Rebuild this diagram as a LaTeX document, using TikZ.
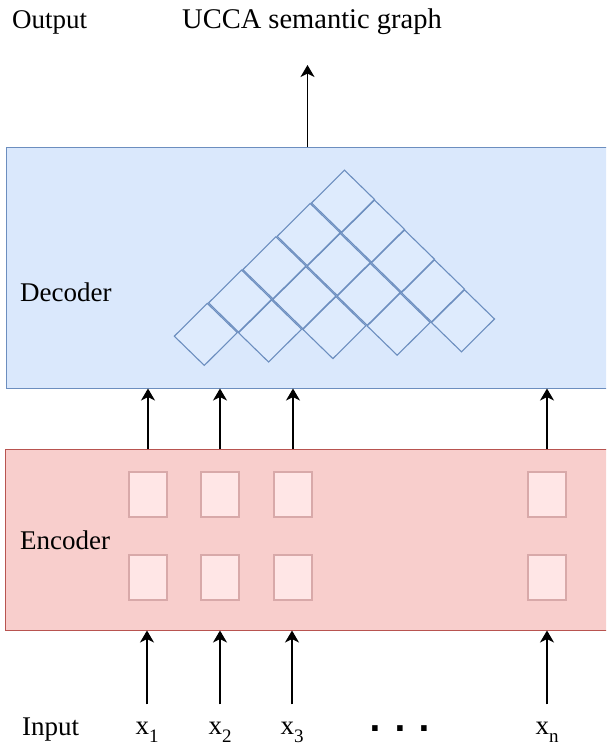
\documentclass[tikz,border=0pt]{standalone}
\usepackage{fontspec}
\setmainfont{Liberation Serif}
\newfontfamily\dotfont{DejaVu Sans}
\usepackage{tikz}
\usetikzlibrary{arrows.meta}
\tikzset{>={Stealth[length=12pt,width=14pt,inset=3.5pt]}}

\definecolor{decfill}{HTML}{DAE8FC}
\definecolor{decline}{HTML}{6C8EBF}
\definecolor{cellfill}{HTML}{DEEBFD}
\definecolor{encfill}{HTML}{F8CECC}
\definecolor{encline}{HTML}{B85450}
\definecolor{hidfill}{HTML}{FFE6E6}
\definecolor{hidline}{HTML}{D8A9A9}

\tikzset{
  block/.style={rectangle, inner sep=0pt, line width=1pt, minimum width=621pt},
  hidbox/.style={rectangle, fill=hidfill, draw=hidline, line width=1.2pt,
    inner sep=0pt, minimum width=38pt, minimum height=45pt},
  cell/.style={fill=cellfill, draw=decline, line width=1.1pt},
  lbl/.style={inner sep=0pt, font=\fontsize{27}{32}\selectfont},
  arr/.style={->, line width=1.3pt},
}
\newcommand\xsub[1]{\raisebox{-8pt}{\fontsize{19}{19}\selectfont#1}}

\begin{document}
\begin{tikzpicture}[x=1pt,y=-1pt]
  \useasboundingbox (0,0) rectangle (606,745);
  \clip (0,0) rectangle (606,745);

  % the two blocks
  \node[block, fill=decfill, draw=decline, minimum height=241pt] (dec) at (316.5,267.5) {};
  \node[block, fill=encfill, draw=encline, minimum height=181pt] (enc) at (315.5,539.5) {};

  \node[lbl, anchor=base west] (declbl) at (20,301) {Decoder};
  \node[lbl, anchor=base west] (enclbl) at (20,549) {Encoder};
  \node[lbl, anchor=base west] (outlbl) at (12,28) {Output};
  \node[lbl, anchor=base, font=\fontsize{28.5}{32}\selectfont] (graph) at (312,28) {UCCA semantic graph};
  \node[lbl, anchor=base west] (inlbl) at (22,735) {Input};

  % chart cells of the decoder
  \foreach \r in {0,...,4}{
    \pgfmathtruncatemacro\last{4-\r}
    \foreach \i in {0,...,\last}{
      \draw[cell, shift={({205.8+64.3*\i+34.3*\r},{334.4-3.4*\i-33.3*\r})}]
        (-31.5,1.8) -- (1.5,-31) -- (31.5,-1.8) -- (-1.5,31) -- cycle;
    }
  }

  % hidden states of the encoder
  \foreach \n/\x in {1/148,2/220,3/293,4/547}{
    \node[hidbox] (hi\n) at (\x,494.4) {};
    \node[hidbox] (lo\n) at (\x,577.4) {};
  }

  % input tokens
  \foreach \n/\s/\x in {1/1/147,2/2/220,3/3/292,4/n/547}{
    \node[lbl, anchor=base] (x\n) at (\x,734) {x\xsub{\s}};
  }
  \node[lbl, anchor=base, font=\dotfont\bfseries\fontsize{31}{31}\selectfont]
    (dots) at (400,731) {.\hspace{12.5pt}.\hspace{12.5pt}.};

  \foreach \n in {1,...,4}{
    \draw[arr, shorten <=17pt] (x\n.north) -- (x\n.north |- enc.south);
    \draw[arr] (hi\n.north |- enc.north) -- (hi\n.north |- dec.south);
  }

  \coordinate (gtip) at (307.5,65);
  \draw[arr] (gtip |- dec.north) -- (gtip);
\end{tikzpicture}
\end{document}
